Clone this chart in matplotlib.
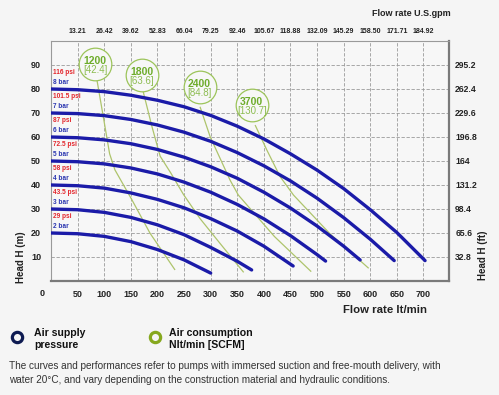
import matplotlib
matplotlib.use("Agg")
import matplotlib.pyplot as plt

plt.rcParams['font.family'] = ['Liberation Sans', 'DejaVu Sans']

# ---------------- data ----------------
bar_labels = ["2 bar", "3 bar", "4 bar", "5 bar", "6 bar", "7 bar", "8 bar"]
psi_labels = ["29 psi", "43.5 psi", "58 psi", "72.5 psi", "87 psi", "101.5 psi", "116 psi"]
shutoff_head = [20, 30, 40, 50, 60, 70, 80]

c2_x = [0, 50, 100, 150, 200, 250, 300]
c2_y = [20, 19.7, 18.6, 16.4, 13.1, 8.8, 3.3]
c3_x = [0, 50, 100, 150, 200, 250, 300, 350, 377]
c3_y = [30, 29.7, 28.6, 26.5, 23.4, 19.3, 14.0, 8.2, 4.6]
c4_x = [0, 50, 100, 150, 200, 250, 300, 350, 400, 455]
c4_y = [40, 39.7, 38.7, 36.7, 34.0, 30.5, 26.0, 20.8, 14.5, 6.25]
c5_x = [0, 50, 100, 150, 200, 250, 300, 350, 400, 450, 500, 516]
c5_y = [50, 49.7, 48.8, 47.1, 44.6, 41.2, 37.0, 31.9, 25.9, 18.9, 11.0, 8.3]
c6_x = [0, 50, 100, 150, 200, 250, 300, 350, 400, 450, 500, 550, 581]
c6_y = [60, 59.7, 58.8, 57.2, 54.8, 51.6, 47.6, 42.8, 37.0, 30.4, 22.9, 14.5, 8.75]
c7_x = [0, 50, 100, 150, 200, 250, 300, 350, 400, 450, 500, 550, 600, 645]
c7_y = [70, 69.75, 68.9, 67.3, 65.0, 62.0, 58.2, 53.5, 48.0, 41.7, 34.5, 26.4, 17.4, 8.5]
c8_x = [0, 50, 100, 150, 200, 250, 300, 350, 400, 450, 500, 550, 600, 650, 703]
c8_y = [80, 79.7, 78.9, 77.4, 75.3, 72.6, 69.0, 64.5, 59.2, 53.0, 46.2, 38.5, 29.7, 20.2, 8.5]
curves_x = [c2_x, c3_x, c4_x, c5_x, c6_x, c7_x, c8_x]
curves_y = [c2_y, c3_y, c4_y, c5_y, c6_y, c7_y, c8_y]

air_nl = ["1200", "1800", "2400", "3700"]
air_scfm = ["[42.4]", "[63.6]", "[84.8]", "[130.7]"]
air_center_x = [82.6, 170.4, 279, 377.3]
air_center_y = [90.5, 85.8, 80.8, 73.3]
g1_x = [86, 100, 110, 120, 152, 186, 233]
g1_y = [84, 66, 53, 46.3, 33.8, 19.9, 4.6]
g2_x = [173, 190, 205, 225, 249, 280, 320, 362]
g2_y = [79, 64, 52, 45, 36, 26, 15, 3.6]
g3_x = [280, 299, 336.5, 352, 420, 489]
g3_y = [72.6, 60.1, 42, 35.8, 18.5, 3.9]
g4_x = [383.5, 405.5, 430.5, 455.7, 525, 597]
g4_y = [65, 54.6, 43.5, 35.8, 19.5, 5.3]
green_x = [g1_x, g2_x, g3_x, g4_x]
green_y = [g1_y, g2_y, g3_y, g4_y]

x_ticks = [50, 100, 150, 200, 250, 300, 350, 400, 450, 500, 550, 600, 650, 700]
gpm_labels = ["13.21", "26.42", "39.62", "52.83", "66.04", "79.25", "92.46", "105.67",
              "118.88", "132.09", "145.29", "158.50", "171.71", "184.92"]
y_ticks = [10, 20, 30, 40, 50, 60, 70, 80, 90]
ft_labels = ["32.8", "65.6", "98.4", "131.2", "164", "196.8", "229.6", "262.4", "295.2"]

# ---------------- styles ----------------
BLUE = '#1b1ba8'
GREEN_LINE = '#aec46c'
GREEN_CIRCLE = '#9cc45a'
GREEN_TEXT = '#6dac2a'
GREEN_TEXT2 = '#8cbc50'
RED = '#e3262c'
LABEL_BLUE = '#2a35b0'
BG = '#f5f5f5'

fig = plt.figure(figsize=(4.99, 3.95), dpi=100, facecolor=BG)
ax = fig.add_axes([51.1 / 499, 1 - 281 / 395, (449 - 51.1) / 499, (281 - 41) / 395])
ax.set_facecolor('#f7f7f7')
ax.set_xlim(0, 748)
ax.set_ylim(0, 100)

ax.set_xticks(x_ticks)
ax.set_yticks(y_ticks)
ax.tick_params(axis='x', length=0, pad=6.5, labelsize=6.5)
ax.tick_params(axis='y', length=0, pad=7.2, labelsize=6.5)
for lab in ax.get_xticklabels() + ax.get_yticklabels():
    lab.set_fontweight('bold')
    lab.set_color('#222222')
ax.grid(True, color='#9a9a9a', linewidth=0.6, linestyle=(0, (4, 2)))
ax.set_axisbelow(True)

for s in ['top', 'left']:
    ax.spines[s].set_color('#9a9a9a')
    ax.spines[s].set_linewidth(0.8)
for s in ['right', 'bottom']:
    ax.spines[s].set_color('#7a7a7a')
    ax.spines[s].set_linewidth(1.6)

# top axis (US gpm)
axt = ax.twiny()
axt.set_xlim(ax.get_xlim())
axt.set_xticks(x_ticks)
axt.set_xticklabels(gpm_labels, fontsize=5, fontweight='bold', color='#222222')
axt.tick_params(axis='x', length=0, pad=4.0)
for s in axt.spines.values():
    s.set_visible(False)

# right axis (ft)
axr = ax.twinx()
axr.set_ylim(ax.get_ylim())
axr.set_yticks(y_ticks)
axr.set_yticklabels(ft_labels, fontsize=6.2, fontweight='bold', color='#222222')
axr.tick_params(axis='y', length=0, pad=4.5)
for s in axr.spines.values():
    s.set_visible(False)

# green air consumption lines and circles
for gx, gy in zip(green_x, green_y):
    ax.plot(gx, gy, color=GREEN_LINE, lw=0.9, zorder=2, solid_capstyle='butt')
for cx, cy, t1, t2 in zip(air_center_x, air_center_y, air_nl, air_scfm):
    ax.plot([cx], [cy], marker='o', markersize=23.5, markerfacecolor='#f7f7f7',
            markeredgecolor=GREEN_CIRCLE, markeredgewidth=0.9, zorder=4)
    ax.annotate(t1, (cx, cy), xytext=(0, 2.2), textcoords='offset points',
                ha='center', va='center', fontsize=7.5, fontweight='bold',
                color=GREEN_TEXT, zorder=5)
    ax.annotate(t2, (cx, cy), xytext=(0, -4.6), textcoords='offset points',
                ha='center', va='center', fontsize=7, color=GREEN_TEXT2, zorder=5)

# blue pressure curves
for cx_, cy_ in zip(curves_x, curves_y):
    ax.plot(cx_, cy_, color=BLUE, lw=2.4, zorder=3, solid_capstyle='round')

# pressure labels
for h, bl, pl in zip(shutoff_head, bar_labels, psi_labels):
    ax.annotate(bl, (0, h), xytext=(1.5, 4.6), textcoords='offset points',
                ha='left', va='center', fontsize=4.7, fontweight='bold',
                color=LABEL_BLUE, zorder=5)
    ax.annotate(pl, (0, h), xytext=(1.5, 12.0), textcoords='offset points',
                ha='left', va='center', fontsize=4.7, fontweight='bold',
                color=RED, zorder=5)

# corner "0"
fig.text(41.7 / 499, 1 - 293.3 / 395, "0", ha='center', va='center',
         fontsize=6.5, fontweight='bold', color='#222222')

# axis titles
fig.text(20.5 / 499, 1 - 257 / 395, "Head H (m)", rotation=90, ha='center',
         va='center', fontsize=7, fontweight='bold', color='#222222')
fig.text(483 / 499, 1 - 255 / 395, "Head H (ft)", rotation=90, ha='center',
         va='center', fontsize=7, fontweight='bold', color='#222222')
fig.text(451 / 499, 1 - 14 / 395, "Flow rate U.S.gpm", ha='right', va='center',
         fontsize=6.5, fontweight='bold', color='#222222')
fig.text(427.3 / 499, 1 - 310 / 395, "Flow rate lt/min", ha='right', va='center',
         fontsize=8.2, fontweight='bold', color='#222222')

# legend
axl = fig.add_axes([0, 0, 1, 1], facecolor='none')
axl.set_xlim(0, 499)
axl.set_ylim(395, 0)
axl.axis('off')
axl.plot([16.7], [336.7], marker='o', markersize=7.4, markerfacecolor='none',
         markeredgecolor='#0e1b52', markeredgewidth=2.3)
axl.plot([155], [336.7], marker='o', markersize=7.4, markerfacecolor='none',
         markeredgecolor='#86a81e', markeredgewidth=2.3)
fig.text(34 / 499, 1 - 333 / 395, "Air supply", ha='left', va='center',
         fontsize=7.6, fontweight='bold', color='#111111')
fig.text(34 / 499, 1 - 345.5 / 395, "pressure", ha='left', va='center',
         fontsize=7.6, fontweight='bold', color='#111111')
fig.text(169 / 499, 1 - 333 / 395, "Air consumption", ha='left', va='center',
         fontsize=7.6, fontweight='bold', color='#111111')
fig.text(169 / 499, 1 - 345.5 / 395, "Nlt/min [SCFM]", ha='left', va='center',
         fontsize=7.6, fontweight='bold', color='#111111')

fig.text(9 / 499, 1 - 366 / 395,
         "The curves and performances refer to pumps with immersed suction and free-mouth delivery, with",
         ha='left', va='center', fontsize=7.2, color='#333333')
fig.text(9 / 499, 1 - 380 / 395,
         "water 20°C, and vary depending on the construction material and hydraulic conditions.",
         ha='left', va='center', fontsize=7.2, color='#333333')

fig.savefig("out.png", dpi=100, facecolor=BG)
